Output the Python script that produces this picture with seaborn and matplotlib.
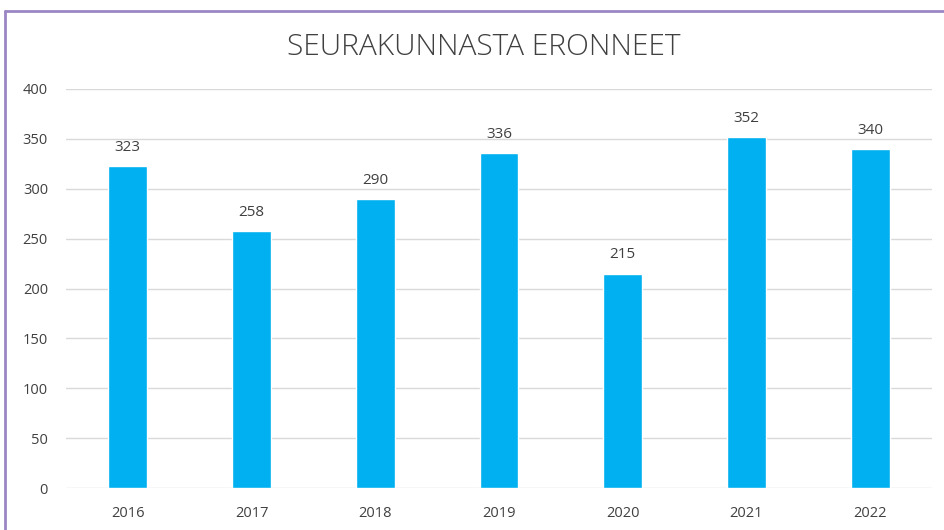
import matplotlib
matplotlib.use("Agg")
import matplotlib.pyplot as plt
import seaborn as sns
import pandas as pd
from matplotlib.lines import Line2D

years = ["2016", "2017", "2018", "2019", "2020", "2021", "2022"]
values = [323, 258, 290, 336, 215, 352, 340]
yticks = [0, 50, 100, 150, 200, 250, 300, 350, 400]
title = "SEURAKUNNASTA ERONNEET"

sns.set_theme(style="white")
plt.rcParams['font.family'] = ['Open Sans', 'DejaVu Sans']

df = pd.DataFrame({"year": years, "value": values})

fig = plt.figure(figsize=(9.44, 5.30), dpi=100)
ax = fig.add_axes([66/944, 1-488/530, (932-66)/944, (488-89)/530])

sns.barplot(data=df, x="year", y="value", color="#00B0F0", width=0.315,
            saturation=1, ax=ax, zorder=3)

ax.set_ylim(0, 400)
ax.set_yticks(yticks)
ax.set_yticklabels([str(t) for t in yticks])
ax.yaxis.grid(True, color="#d9d9d9", linewidth=1, zorder=0)
ax.set_axisbelow(True)
for s in ax.spines.values():
    s.set_visible(False)
ax.tick_params(axis="both", length=0, labelsize=10.5, colors="#404040")
ax.tick_params(axis="y", pad=13)
ax.tick_params(axis="x", pad=13)
ax.set_xlabel("")
ax.set_ylabel("")

for c in ax.containers:
    ax.bar_label(c, labels=[str(v) for v in values], padding=8,
                 fontsize=11, color="#404040")

fig.text(484/944, 1-47/530, title, ha="center", va="center",
         fontsize=21.5, fontweight="light", color="#404040")

# purple frame
fig.add_artist(Line2D([5/944, 5/944], [0, 1-11/530], color="#9a86c4",
                      linewidth=2, transform=fig.transFigure))
fig.add_artist(Line2D([5/944, 1], [1-11/530, 1-11/530], color="#9a86c4",
                      linewidth=2, transform=fig.transFigure))

fig.savefig("out.png", dpi=100)
